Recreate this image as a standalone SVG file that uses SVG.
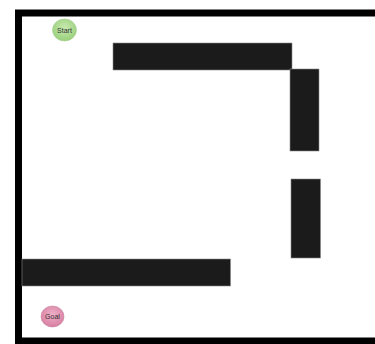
<svg xmlns="http://www.w3.org/2000/svg" width="375" height="344" viewBox="0 0 375 344">
<defs>
<radialGradient id="gs" cx="50%" cy="40%" r="60%"><stop offset="0" stop-color="#c8eab0"/><stop offset="1" stop-color="#98cf7a"/></radialGradient>
<radialGradient id="gg" cx="50%" cy="40%" r="60%"><stop offset="0" stop-color="#f0b0c8"/><stop offset="1" stop-color="#d77fa0"/></radialGradient>
</defs>
<style>
.wall{fill:#1b1b1b;stroke:#8a8a8a;stroke-width:0.6}
.lbl{font-family:"Liberation Sans",Arial,sans-serif;font-size:7px;fill:#333;text-anchor:middle}
</style>
<rect x="0" y="0" width="375" height="344" fill="#ffffff"/>
<g id="frame">
<rect x="18.5" y="13" width="380" height="328" fill="none" stroke="#000" stroke-width="7"/>
</g>
<g id="walls">
<rect class="wall" x="113" y="43" width="179" height="27"/>
<rect class="wall" x="290" y="69" width="29" height="82"/>
<rect class="wall" x="291" y="179" width="29.5" height="79"/>
<rect class="wall" x="22" y="259" width="208.5" height="27"/>
</g>
<g id="start">
<ellipse cx="64.5" cy="30" rx="12" ry="11" fill="url(#gs)" stroke="#a9cf94" stroke-width="0.6"/>
<text class="lbl" x="64.5" y="32.5">Start</text>
</g>
<g id="goal">
<ellipse cx="52.5" cy="316.5" rx="11.5" ry="10.5" fill="url(#gg)" stroke="#c98aa3" stroke-width="0.6"/>
<text class="lbl" x="52.5" y="319">Goal</text>
</g>
</svg>
